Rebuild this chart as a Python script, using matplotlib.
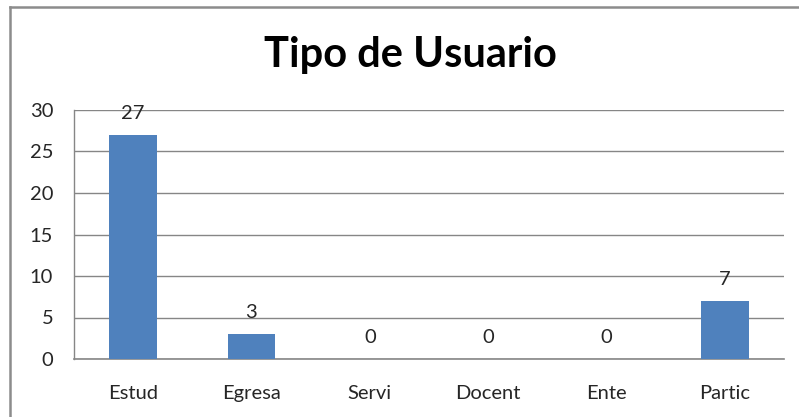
import matplotlib
matplotlib.use('Agg')
import matplotlib.pyplot as plt
from matplotlib.lines import Line2D

plt.rcParams.update({'font.family': ['Lato', 'DejaVu Sans'], 'font.size': 14.5})

categorias = ['Estud', 'Egresa', 'Servi', 'Docent', 'Ente', 'Partic']
valores = [27, 3, 0, 0, 0, 7]
yticks = [0, 5, 10, 15, 20, 25, 30]

BAR = '#4F81BD'
GRID = '#868686'
INK = '#262626'

fig = plt.figure(figsize=(7.99, 4.17), dpi=100)
ax = fig.add_axes([74 / 799, 58 / 417, 710 / 799, 249 / 417])

x = range(len(categorias))
ax.bar(x, valores, width=0.4, color=BAR, zorder=3)
for xi, v in zip(x, valores):
    ax.annotate(str(v), (xi, v), xytext=(0, 11.5), textcoords='offset points',
                ha='center', va='baseline', fontsize=14.5, color=INK, zorder=4)

ax.set_xlim(-0.5, len(categorias) - 0.5)
ax.set_ylim(0, 30)
ax.set_yticks(yticks)
ax.set_xticks(list(x))
ax.set_xticklabels(categorias)
ax.tick_params(axis='y', length=0, pad=15, labelsize=14.5, colors=INK)
ax.tick_params(axis='x', length=0, pad=19, labelsize=14.5, colors=INK)
ax.grid(axis='y', color=GRID, lw=1.0, zorder=0)
ax.axhline(0, color=GRID, lw=1.2, zorder=2, clip_on=False)
for s in ['top', 'right', 'bottom']:
    ax.spines[s].set_visible(False)
ax.spines['left'].set_color(GRID)
ax.spines['left'].set_linewidth(1.0)

fig.text(410 / 799, 1 - 55 / 417, 'Tipo de Usuario', ha='center', va='center',
         fontsize=30, fontweight='bold', color='black')

# chart frame (top and left edges visible)
fig.add_artist(Line2D([10 / 799, 1], [1 - 6.5 / 417, 1 - 6.5 / 417], color='#8C8C8C', lw=1.8, transform=fig.transFigure))
fig.add_artist(Line2D([10 / 799, 10 / 799], [0, 1 - 6.5 / 417], color='#8C8C8C', lw=1.8, transform=fig.transFigure))

fig.savefig('out.png', dpi=100)
